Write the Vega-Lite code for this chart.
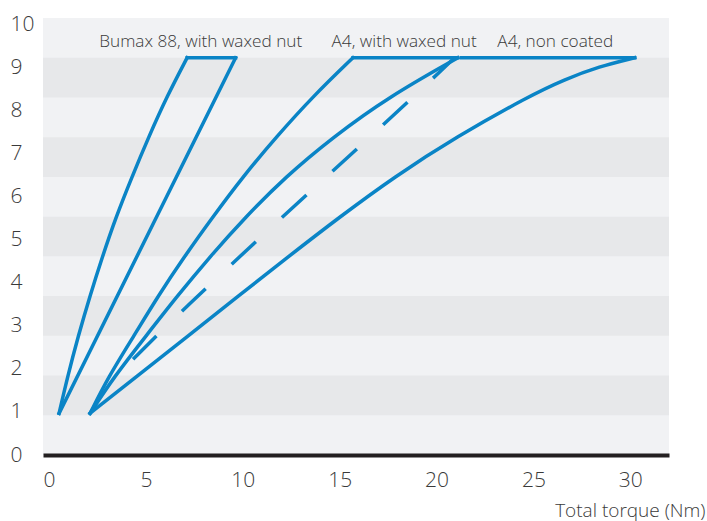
{
  "$schema": "https://vega.github.io/schema/vega-lite/v6.json",
  "width": 626,
  "height": 437,
  "autosize": {"type": "none"},
  "padding": {"left": 43, "top": 18, "right": 38, "bottom": 66},
  "background": "#ffffff",
  "view": {"fill": "#f1f2f4", "stroke": null},
  "config": {"font": "Open Sans"},
  "datasets": {
    "bands": [
      {"lo": 1, "hi": 2}, {"lo": 3, "hi": 4}, {"lo": 5, "hi": 6}, {"lo": 7, "hi": 8}, {"lo": 9, "hi": 10}
    ],
    "curves": [
      {"seg": "bumaxL", "x": 0.52, "y": 1.05},
      {"seg": "bumaxL", "x": 0.96, "y": 1.97},
      {"seg": "bumaxL", "x": 1.50, "y": 2.98},
      {"seg": "bumaxL", "x": 2.11, "y": 4.00},
      {"seg": "bumaxL", "x": 2.77, "y": 5.01},
      {"seg": "bumaxL", "x": 3.44, "y": 5.97},
      {"seg": "bumaxL", "x": 4.28, "y": 7.00},
      {"seg": "bumaxL", "x": 5.15, "y": 8.01},
      {"seg": "bumaxL", "x": 6.10, "y": 9.04},
      {"seg": "bumaxL", "x": 7.13, "y": 10},
      {"seg": "bumaxTop", "x": 7.13, "y": 10},
      {"seg": "bumaxTop", "x": 9.63, "y": 10},
      {"seg": "bumaxR", "x": 0.52, "y": 1.05},
      {"seg": "bumaxR", "x": 9.63, "y": 10},
      {"seg": "a4waxL", "x": 2.12, "y": 1.05},
      {"seg": "a4waxL", "x": 3.07, "y": 1.97},
      {"seg": "a4waxL", "x": 4.36, "y": 2.98},
      {"seg": "a4waxL", "x": 5.63, "y": 4.00},
      {"seg": "a4waxL", "x": 6.98, "y": 4.99},
      {"seg": "a4waxL", "x": 8.42, "y": 5.97},
      {"seg": "a4waxL", "x": 10.0, "y": 7.00},
      {"seg": "a4waxL", "x": 11.72, "y": 8.00},
      {"seg": "a4waxL", "x": 13.65, "y": 9.04},
      {"seg": "a4waxL", "x": 15.69, "y": 10},
      {"seg": "a4waxTop", "x": 15.69, "y": 10},
      {"seg": "a4waxTop", "x": 21.1, "y": 10},
      {"seg": "a4waxR", "x": 2.12, "y": 1.05},
      {"seg": "a4waxR", "x": 3.36, "y": 1.97},
      {"seg": "a4waxR", "x": 4.98, "y": 2.98},
      {"seg": "a4waxR", "x": 6.62, "y": 4.00},
      {"seg": "a4waxR", "x": 8.32, "y": 5.00},
      {"seg": "a4waxR", "x": 10.1, "y": 5.97},
      {"seg": "a4waxR", "x": 12.2, "y": 7.00},
      {"seg": "a4waxR", "x": 14.65, "y": 8.00},
      {"seg": "a4waxR", "x": 17.55, "y": 9.02},
      {"seg": "a4waxR", "x": 21.1, "y": 10},
      {"seg": "a4ncTop", "x": 21.3, "y": 10},
      {"seg": "a4ncTop", "x": 30.23, "y": 10},
      {"seg": "a4nc", "x": 2.12, "y": 1.05},
      {"seg": "a4nc", "x": 4.51, "y": 1.97},
      {"seg": "a4nc", "x": 7.13, "y": 2.98},
      {"seg": "a4nc", "x": 9.77, "y": 4.00},
      {"seg": "a4nc", "x": 12.4, "y": 5.01},
      {"seg": "a4nc", "x": 15.0, "y": 5.99},
      {"seg": "a4nc", "x": 17.85, "y": 7.01},
      {"seg": "a4nc", "x": 21.0, "y": 8.00},
      {"seg": "a4nc", "x": 24.8, "y": 9.04},
      {"seg": "a4nc", "x": 26.6, "y": 9.45},
      {"seg": "a4nc", "x": 28.4, "y": 9.78},
      {"seg": "a4nc", "x": 30.23, "y": 10}
    ],
    "dashed": [
      {"x": 4.34, "y": 2.41},
      {"x": 6.83, "y": 3.62},
      {"x": 12.0, "y": 5.98},
      {"x": 17.21, "y": 8.28},
      {"x": 20.85, "y": 9.96}
    ],
    "labels": [
      {"text": "Bumax 88, with waxed nut", "x": 7.83, "y": 10.4},
      {"text": "A4, with waxed nut", "x": 18.33, "y": 10.4},
      {"text": "A4, non coated", "x": 26.13, "y": 10.4}
    ],
    "yticks": [{"v": 0}, {"v": 10}]
  },
  "layer": [
    {
      "layer": [
        {
          "data": {"name": "bands"},
          "mark": {"type": "rect", "color": "#e7e8ea"},
          "encoding": {
            "x": {"value": 0},
            "x2": {"value": "width"},
            "y": {"field": "lo", "type": "quantitative", "scale": {"domain": [0, 11], "nice": false, "zero": false}, "axis": null},
            "y2": {"field": "hi"}
          }
        },
        {
          "data": {"name": "curves"},
          "mark": {"type": "line", "color": "#0a84c6", "strokeWidth": 3.5, "strokeCap": "square", "interpolate": "basis"},
          "encoding": {
            "x": {
              "field": "x", "type": "quantitative",
              "scale": {"domain": [-0.31, 32], "nice": false, "zero": false},
              "axis": {
                "values": [0, 5, 10, 15, 20, 25, 30],
                "title": "Total torque (Nm)",
                "titleX": 662, "titleY": 55, "titleAlign": "right", "titleBaseline": "middle",
                "titleFontSize": 19, "titleFontWeight": 300, "titleColor": "#3a3a3a", "titleFont": "Open Sans",
                "domain": true, "domainColor": "#231f20", "domainWidth": 4,
                "ticks": false, "tickSize": 0, "grid": false,
                "labelPadding": 25, "labelBaseline": "middle", "labelFlush": false,
                "labelFontSize": 21, "labelFontWeight": 300, "labelColor": "#3a3a3a", "labelFont": "Open Sans"
              }
            },
            "y": {"field": "y", "type": "quantitative", "scale": {"domain": [0, 11], "nice": false, "zero": false}, "axis": null},
            "detail": {"field": "seg", "type": "nominal"},
            "order": {"field": "x", "type": "quantitative"}
          }
        },
        {
          "data": {"name": "dashed"},
          "mark": {"type": "line", "color": "#0a84c6", "strokeWidth": 3.5, "strokeCap": "butt", "strokeDash": [33, 35.5], "interpolate": "basis"},
          "encoding": {
            "x": {"field": "x", "type": "quantitative"},
            "y": {"field": "y", "type": "quantitative", "scale": {"domain": [0, 11], "nice": false, "zero": false}, "axis": null},
            "order": {"field": "x", "type": "quantitative"}
          }
        },
        {
          "data": {"name": "labels"},
          "mark": {"type": "text", "align": "center", "baseline": "middle", "fontSize": 17.2, "fontWeight": 300, "color": "#3a3a3a", "font": "Open Sans"},
          "encoding": {
            "x": {"field": "x", "type": "quantitative"},
            "y": {"field": "y", "type": "quantitative", "scale": {"domain": [0, 11], "nice": false, "zero": false}, "axis": null},
            "text": {"field": "text", "type": "nominal"}
          }
        }
      ]
    },
    {
      "data": {"name": "yticks"},
      "mark": {"type": "point", "opacity": 0},
      "encoding": {
        "y": {
          "field": "v", "type": "quantitative",
          "scale": {"domain": [0, 10.16], "nice": false, "zero": false},
          "axis": {
            "orient": "left",
            "values": [0, 1, 2, 3, 4, 5, 6, 7, 8, 9, 10],
            "title": null, "domain": false, "ticks": false, "tickSize": 0, "grid": false,
            "labelAlign": "left", "labelBaseline": "middle", "labelPadding": 33, "labelFlush": false, "labelOverlap": false,
            "labelFontSize": 21, "labelFontWeight": 300, "labelColor": "#3a3a3a", "labelFont": "Open Sans"
          }
        }
      }
    }
  ],
  "resolve": {"scale": {"y": "independent"}}
}
